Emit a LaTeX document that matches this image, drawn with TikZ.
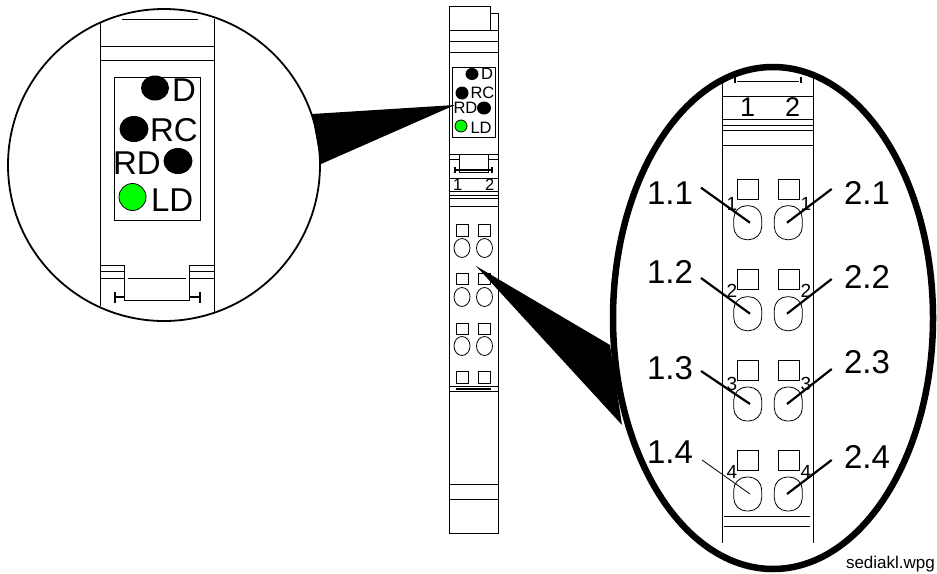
\documentclass[tikz,border=0pt]{standalone}
\usepackage{fontspec}
\setmainfont{Liberation Sans}
\tikzset{
    txt/.style={anchor=base west, inner sep=0pt, outer sep=0pt},
    bigtxt/.style={txt, font=\fontsize{33}{33}\selectfont},
    ledtxt/.style={txt, font=\fontsize{16.5}{17}\selectfont},
    numtxt/.style={txt, font=\fontsize{33}{33}\selectfont},
    portnum/.style={txt, font=\fontsize{19}{19}\selectfont},
    thin line/.style={line width=0.8pt},
    leader/.style={line width=2.2pt},
}
\begin{document}
\begin{tikzpicture}[x=1pt, y=-1pt, thin line]
\useasboundingbox (0,0) rectangle (937,573);

%left magnifier
\draw[line width=1.8pt] (164,165) circle (156);
\draw (100.5,23)--(100.5,306);
\draw (214.5,19)--(214.5,312);
\draw (122,19.5)--(198,19.5);
\draw (101,46)--(214,46);
\draw (101,60)--(214,60);
\draw (114,77) rectangle (200,220);
\fill (155,88) ellipse (14 and 12.5);
\fill (134,129) ellipse (14.5 and 13);
\fill (178,161) ellipse (14.5 and 13);
\draw[fill=green] (132.5,197) circle (13.5);
\node[bigtxt] (ledD) at (172,101) {D};
\node[bigtxt] (ledRC) at (150,141) {RC};
\node[bigtxt] (ledRD) at (113,174) {RD};
\node[bigtxt] (ledLD) at (151,211) {LD};
\draw (100,265)--(124,265);
\draw (190,265)--(214,265);
\draw (100,271)--(124,271);
\draw (190,271)--(214,271);
\draw (100,278)--(124,278);
\draw (190,278)--(214,278);
\draw (124.5,265)--(124.5,300)--(189.5,300)--(189.5,265);
\draw (128,278)--(186,278);
\draw[line width=1.3pt] (115,292)--(115,303);
\draw[line width=1.3pt] (200,292)--(200,303);
\draw[line width=1.3pt] (115,297)--(124,297);
\draw[line width=1.3pt] (190,297)--(200,297);

%wedges
\fill (312,114)--(455,105)--(321,164)--cycle;
\fill (476,266)--(610,345)--(622,425)--cycle;

%module, upper part
\draw (449,533)--(449,6)--(490,6)--(490,13)--(498.7,13)--(498.7,533)--cycle;
\draw (490,13)--(490,30);
\draw (449,30)--(498.7,30);
\draw (449,41)--(498.7,41);
\draw (449,52)--(498.7,52);
\draw (452.5,67) rectangle (495,137);
\fill (472,74) ellipse (6.5 and 6);
\fill (462,93) ellipse (6.5 and 6.5);
\fill (484,108) ellipse (7 and 6.5);
\draw[fill=green] (461,126) circle (6);
\node[ledtxt] (smallD) at (481,79) {D};
\node[ledtxt] (smallRC) at (470.5,98) {RC};
\node[ledtxt] (smallRD) at (453.5,113) {RD};
\node[ledtxt] (smallLD) at (470.5,133) {LD};
\draw (449,154)--(498.7,154);
\draw (449,159)--(459,159);
\draw (488,159)--(498.7,159);
\draw (459,154)--(459,172)--(488,172)--(488,154);
\draw[line width=1.3pt] (455,167)--(455,173);
\draw[line width=1.3pt] (492,167)--(492,173);
\draw[line width=1.3pt] (455,170)--(492,170);
\draw (449,178)--(498.7,178);
\node[ledtxt] (smallOne) at (453,190) {1};
\node[ledtxt] (smallTwo) at (485,190) {2};
\draw (449,191)--(498.7,191);
\draw (449,195)--(498.7,195);
\draw (449,198)--(498.7,198);
\draw (449,206)--(498.7,206);

%module, ports
\foreach \row/\ys in {1/224.5,2/273,3/323,4/371.5}{
    \draw (456.5,\ys) rectangle +(11.5,11.5);
    \draw (478.5,\ys) rectangle +(12,11.5);
}
\foreach \yc in {248,297,346}{
    \draw (462,\yc) ellipse (8 and 9.5);
    \draw (484.5,\yc) ellipse (8 and 9.5);
}

%module, lower part
\draw (449,386)--(498.7,386);
\draw (449,391)--(498.7,391);
\draw[line width=1.5pt] (456,389)--(491,389);
\draw (449,484)--(498.7,484);
\draw (449,499)--(498.7,499);

%right magnifier
\draw[line width=6.5pt] (773,318) ellipse (160 and 251);
\draw (722.7,76)--(722.7,543);
\draw (813.3,76)--(813.3,543);
\draw (737,81.5)--(799,81.5);
\draw[line width=1.3pt] (735,77)--(735,83);
\draw[line width=1.3pt] (801,77)--(801,83);
\draw (723,96.7)--(813,96.7);
\draw (723,119)--(813,119);
\draw (723,125)--(813,125);
\draw (723,130)--(813,130);
\draw (723,145.7)--(813,145.7);
\node[txt, font=\fontsize{27}{27}\selectfont] (topOne) at (740,116) {1};
\node[txt, font=\fontsize{27}{27}\selectfont] (topTwo) at (785,116) {2};
\draw (724,516.7)--(810,516.7);
\draw (724,526)--(810,526);

\foreach \row/\ys/\yo/\ya/\yb/\yd in {1/179/222.7/204/204/210,2/269.3/313.7/283/288/297,3/360/404/379/373/390,4/450/494/463/468/478}{
    \draw (737.3,\ys) rectangle +(21,20.3);
    \draw (778.3,\ys) rectangle +(21.3,20.3);
    \draw[rounded corners=13pt] (733.7,\yo-17) rectangle (761.7,\yo+17);
    \draw[rounded corners=13pt] (774.3,\yo-17) rectangle (802.3,\yo+17);
    \coordinate (endA\row) at (750,\yo);
    \coordinate (endB\row) at (787,\yo);
    \node[numtxt] (nameA\row) at (647,\ya) {1.\row};
    \node[numtxt] (nameB\row) at (844,\yb) {2.\row};
    \node[portnum] (portA\row) at (726.5,\yd) {\row};
    \node[portnum] (portB\row) at (800.5,\yd) {\row};
}

%leaders
\coordinate (startA1) at (701,187.7);
\coordinate (startB1) at (831.7,189);
\coordinate (startA2) at (701,278);
\coordinate (startB2) at (831.7,279);
\coordinate (startA3) at (701,371);
\coordinate (startB3) at (831.7,369);
\coordinate (startA4) at (702,460);
\coordinate (startB4) at (831.7,460);
\foreach \row in {1,2,3}{
    \draw[leader] (startA\row)--(endA\row);
}
\draw[thin line] (startA4)--(endA4);
\foreach \row in {1,2,3,4}{
    \draw[leader] (startB\row)--(endB\row);
}

\node[txt, font=\fontsize{17}{17}\selectfont] (fileName) at (846,568) {sediakl.wpg};
\end{tikzpicture}
\end{document}
